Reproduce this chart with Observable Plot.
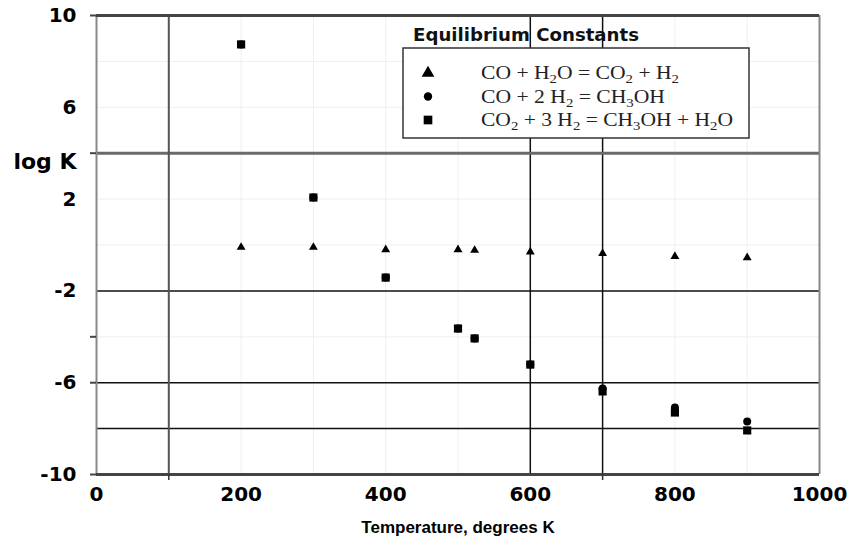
<!DOCTYPE html>
<html>
<head>
<meta charset="utf-8">
<script src="https://cdn.jsdelivr.net/npm/d3@7"></script>
<script src="https://cdn.jsdelivr.net/npm/@observablehq/plot@0.6"></script>
<style>
  html, body { margin: 0; padding: 0; background: #fff; }
  #chart svg { display: block; }
</style>
</head>
<body>
<div id="chart"></div>
<script>
// ---- data ----
const temps = [200, 300, 400, 500, 523, 600, 700, 800, 900];
const logK_shift   = [-0.1, -0.1, -0.2, -0.2, -0.23, -0.3, -0.37, -0.5, -0.55];   // CO + H2O = CO2 + H2
const logK_coMeoh  = [8.74, 2.07, -1.42, -3.64, -4.07, -5.21, -6.25, -7.08, -7.69]; // CO + 2 H2 = CH3OH
const logK_co2Meoh = [8.74, 2.07, -1.42, -3.64, -4.07, -5.21, -6.38, -7.30, -8.08]; // CO2 + 3 H2 = CH3OH + H2O

const xTicks = [0, 200, 400, 600, 800, 1000];
const yTickLabels = [10, 6, 2, -2, -6, -10];
const yOuterTicks = [10, 4, -4, -6, -10];
const xOuterTicks = [100, 700];
const minorGridY = [8, 6, 2, 0, -4];
const minorGridX = [200, 300, 400, 500, 800, 900];
const majorGridY = [-2, -6, -8];
const majorGridX = [600, 700];
const heavyGridY = [4];
const heavyGridX = [100];
const frameY = [10, -10];
const frameX = [0, 1000];

const legendTitle = "Equilibrium Constants";
const legendLabels = ["CO + H_2O = CO_2 + H_2", "CO + 2 H_2 = CH_3OH", "CO_2 + 3 H_2 = CH_3OH + H_2O"];
const legendSymbols = ["triangle", "circle", "square"];
const xLabel = "Temperature, degrees K";
const yLabel = "log K";

const rows = (vals) => temps.map((t, i) => ({t, v: vals[i]}));

const sans = "'DejaVu Sans', Verdana, sans-serif";
const sans2 = "'Liberation Sans', Arial, Helvetica, sans-serif";
const fmt = (d) => String(d);

const chart = Plot.plot({
  width: 847,
  height: 539,
  marginLeft: 96,
  marginRight: 28,
  marginTop: 15,
  marginBottom: 65,
  style: {fontFamily: sans, background: "#fff", color: "#000"},
  x: {domain: [0, 1000]},
  y: {domain: [-10, 10]},
  marks: [
    Plot.ruleY(minorGridY, {stroke: "#efefef", strokeWidth: 1}),
    Plot.ruleX(minorGridX, {stroke: "#efefef", strokeWidth: 1}),
    Plot.ruleY(majorGridY, {stroke: "#111", strokeWidth: 1.5}),
    Plot.ruleX(majorGridX, {stroke: "#111", strokeWidth: 1.5}),
    Plot.ruleY(heavyGridY, {stroke: "#6a6a6a", strokeWidth: 3}),
    Plot.ruleX(heavyGridX, {stroke: "#555", strokeWidth: 2}),
    Plot.ruleX(frameX, {stroke: "#888", strokeWidth: 2}),
    Plot.ruleY(frameY, {stroke: "#444", strokeWidth: 3}),
    Plot.axisY({ticks: yOuterTicks, tickSize: 6, tickFormat: () => "", stroke: "#444", strokeWidth: 2, label: null}),
    Plot.axisX({ticks: xOuterTicks, tickSize: 6, tickFormat: () => "", stroke: "#333", strokeWidth: 1.5, label: null}),
    Plot.axisY({ticks: yTickLabels, tickSize: 0, tickPadding: 20, tickFormat: fmt, fontSize: 20, fontWeight: "bold", label: null}),
    Plot.axisY({ticks: heavyGridY, tickSize: 0, tickPadding: 20, tickFormat: () => yLabel, fontSize: 22, fontWeight: "bold", dy: 9, label: null}),
    Plot.axisX({ticks: xTicks, tickSize: 0, tickPadding: 12, tickFormat: fmt, fontSize: 20, fontWeight: "bold", label: null}),
    Plot.text([xLabel], {frameAnchor: "bottom", dy: 58, fontSize: 17, fontWeight: "bold", fontFamily: sans2, fill: "#000"}),
    Plot.dot(rows(logK_shift), {x: "t", y: "v", symbol: "triangle", r: 3.3, fill: "#000", stroke: "none"}),
    Plot.dot(rows(logK_coMeoh), {x: "t", y: "v", symbol: "circle", r: 4, fill: "#000", stroke: "none"}),
    Plot.dot(rows(logK_co2Meoh), {x: "t", y: "v", symbol: "square", r: 4.6, fill: "#000", stroke: "none"})
  ]
});
document.getElementById("chart").appendChild(chart);

// ---- legend ----
const svg = d3.select(chart);
const lg = svg.append("g").attr("class", "legend").attr("text-anchor", "start");
lg.append("text")
  .attr("x", 413).attr("y", 41)
  .attr("text-anchor", "start")
  .attr("font-family", sans).attr("font-weight", "bold").attr("font-size", 18)
  .attr("fill", "#111")
  .attr("textLength", 226).attr("lengthAdjust", "spacingAndGlyphs")
  .text(legendTitle);
lg.append("rect")
  .attr("x", 403).attr("y", 48).attr("width", 346).attr("height", 90)
  .attr("fill", "#fff").attr("stroke", "#333").attr("stroke-width", 1.5);
const symMap = {triangle: d3.symbolTriangle, circle: d3.symbolCircle, square: d3.symbolSquare};
const symSize = {triangle: 70, circle: 55, square: 75};
const widths = [198, 184, 252];
legendLabels.forEach((lab, i) => {
  const yb = 79 + i * 23.5;
  lg.append("path")
    .attr("d", d3.symbol(symMap[legendSymbols[i]], symSize[legendSymbols[i]])())
    .attr("transform", `translate(428,${yb - 6})`)
    .attr("fill", "#000");
  const t = lg.append("text")
    .attr("x", 481).attr("y", yb)
    .attr("text-anchor", "start")
    .attr("font-family", "'Liberation Serif', 'Times New Roman', serif")
    .attr("font-size", 19).attr("fill", "#222")
    .attr("textLength", widths[i]).attr("lengthAdjust", "spacingAndGlyphs");
  const parts = lab.split(/(_\d)/).filter(s => s.length);
  let sub = false;
  parts.forEach(p => {
    if (p.startsWith("_")) {
      t.append("tspan").attr("font-size", 13).attr("dy", 4).text(p.slice(1));
      sub = true;
    } else {
      const ts = t.append("tspan").text(p);
      if (sub) { ts.attr("dy", -4); sub = false; }
    }
  });
});
</script>
</body>
</html>
